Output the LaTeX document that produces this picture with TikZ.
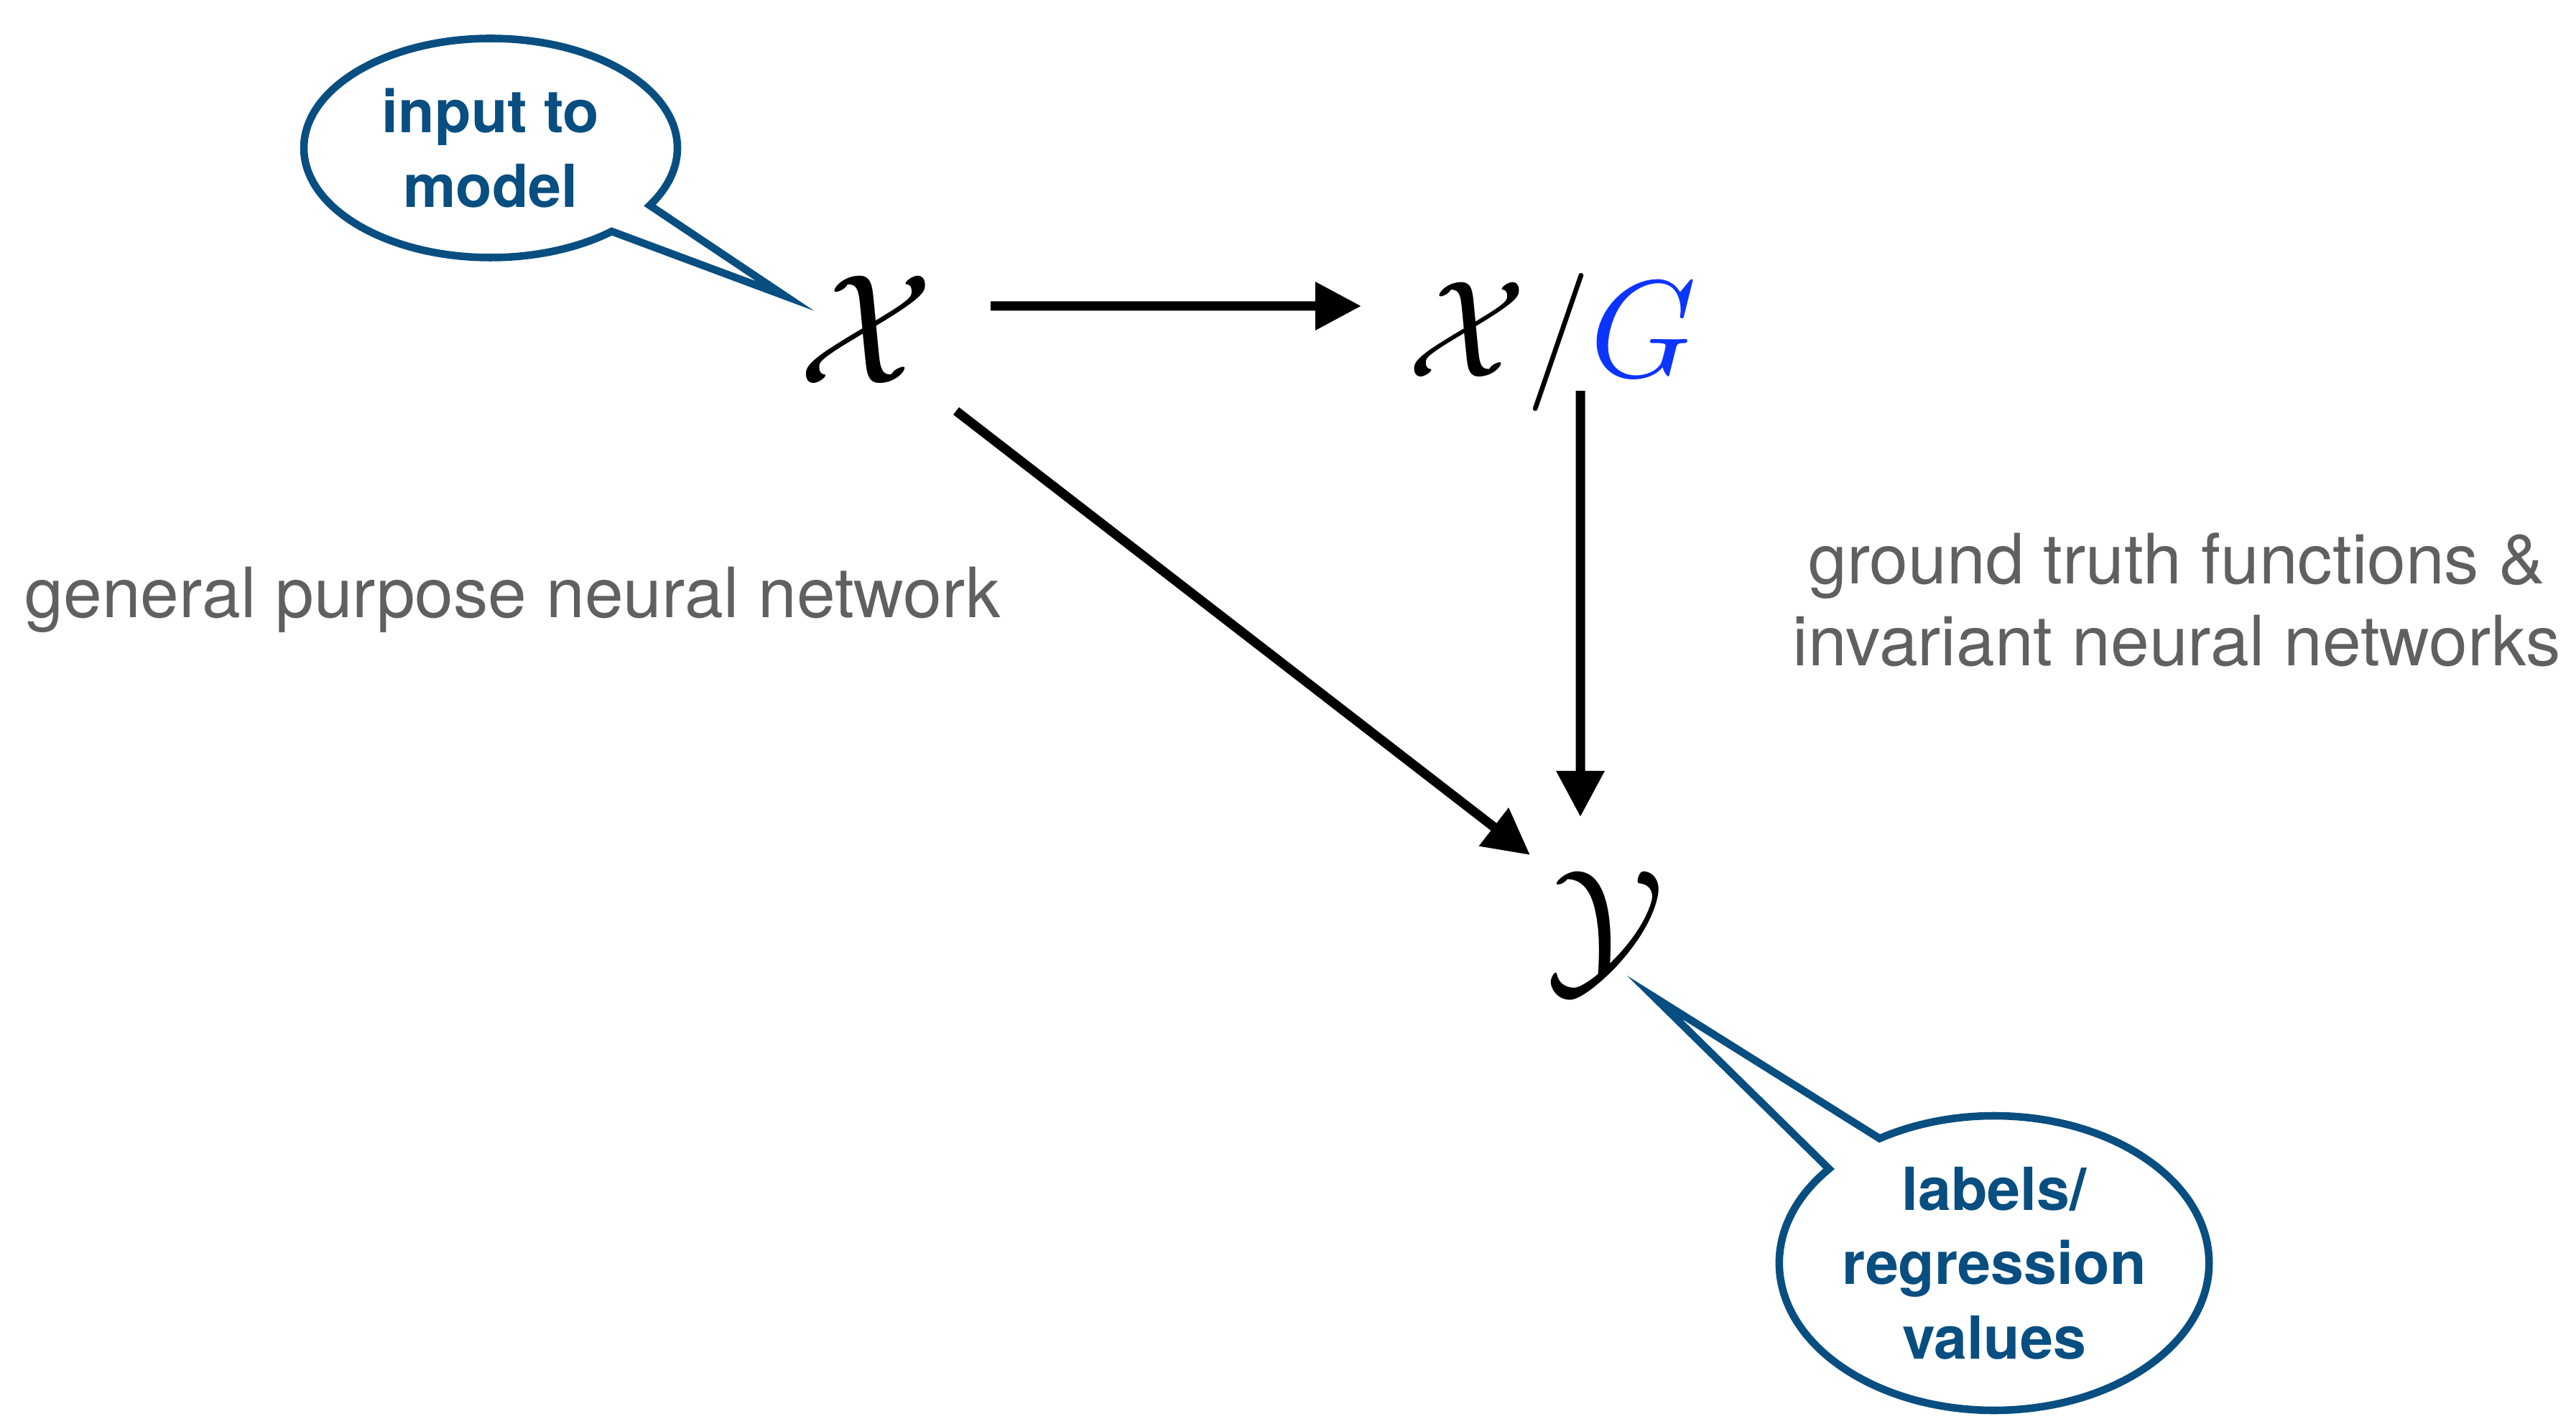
\documentclass[tikz,border=0pt]{standalone}
\usepackage{fontspec}
\setmainfont{TeX Gyre Heros}
\usetikzlibrary{arrows.meta,shapes.callouts}
\definecolor{callblue}{RGB}{8,78,128}
\definecolor{gblue}{RGB}{12,52,255}
\definecolor{txtgray}{RGB}{96,96,96}

\begin{document}
\begin{tikzpicture}[
  sp/.style={inner sep=0pt,font=\Huge,scale=2.5,anchor=base},
  ar/.style={line width=3.7pt,-{Triangle[length=6.4mm,width=6.4mm]}},
  note/.style={text=txtgray,font=\fontsize{27.5}{32.5}\selectfont,inner sep=0pt},
  bub/.style={ellipse callout,draw=callblue,line width=3pt,text=callblue,align=center,
    font=\bfseries\fontsize{23.5}{29.5}\selectfont,inner sep=0pt,callout pointer arc=18}]
  \useasboundingbox (0,0) rectangle (35.86,19.74);
  % spaces
  \node[sp] (X) at (12.05,14.40) {$\mathcal{X}$};
  \node[sp,scale=0.88] (XG) at (21.61,14.49) {$\mathcal{X}/{\color{gblue}G}$};
  \node[sp] (Y) at (22.35,6.12) {$\mathcal{Y}$};
  % maps between them
  \draw[ar] ([shift={(1.74,1.08)}]X.base) -- ([shift={(-2.66,0.99)}]XG.base);
  \draw[ar] ([shift={(1.26,-0.38)}]X.base) -- ([shift={(-1.05,1.72)}]Y.base);
  \draw[ar] ([shift={(0.39,-0.19)}]XG.base) -- ([shift={(-0.35,2.25)}]Y.base);
  % side notes
  \node[note,anchor=west] (gp) at (0.34,11.39) {general purpose neural network};
  \node[note,align=center] (inv) at (30.30,11.39) {ground truth functions \&\\invariant neural networks};
  % speech bubbles
  \node[bub,minimum width=5.2cm,minimum height=3.05cm,
    callout absolute pointer={([shift={(-1.12,1.22)}]X.base)}] (inp) at (6.83,17.68) {input to\\model};
  \node[bub,minimum width=5.9cm,minimum height=4.1cm,
    callout absolute pointer={([shift={(0.68,-0.26)}]Y.base)}] (lab) at (27.76,2.16) {labels/\\regression\\values};
\end{tikzpicture}
\end{document}
